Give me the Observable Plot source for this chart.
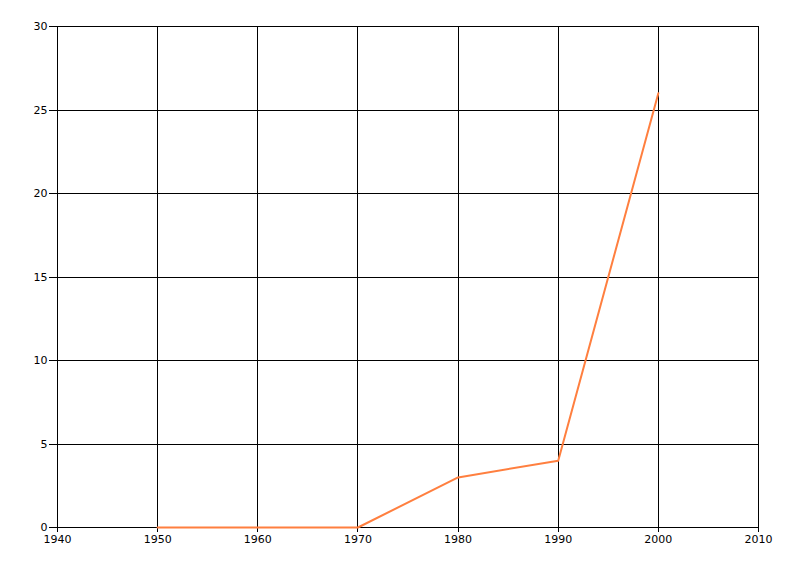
<!DOCTYPE html>
<html>
<head>
<meta charset="utf-8">
<script src="https://cdn.jsdelivr.net/npm/d3@7"></script>
<script src="https://cdn.jsdelivr.net/npm/@observablehq/plot@0.6"></script>
<style>
  html, body { margin: 0; padding: 0; background: #fff; }
  svg line, svg path[aria-label] { }
  g[aria-label="x-grid"], g[aria-label="y-grid"], g[aria-label="x-axis tick"], g[aria-label="y-axis tick"] { shape-rendering: crispEdges; }
</style>
</head>
<body>
<div id="chart"></div>
<script>
const years = [1950, 1960, 1970, 1980, 1990, 2000];
const values = [0, 0, 0, 3, 4, 26];
const xTicks = [1940, 1950, 1960, 1970, 1980, 1990, 2000, 2010];
const yTicks = [0, 5, 10, 15, 20, 25, 30];

const data = years.map((y, i) => ({year: y, value: values[i]}));

const chart = Plot.plot({
  width: 800,
  height: 576,
  marginLeft: 57,
  marginRight: 42,
  marginTop: 26,
  marginBottom: 49,
  style: {fontFamily: "'DejaVu Sans', sans-serif", fontSize: "11px", color: "#000", background: "#fff"},
  x: {domain: [1940, 2010], label: null},
  y: {domain: [0, 30], label: null},
  marks: [
    Plot.gridX(xTicks, {stroke: "#000", strokeOpacity: 1, strokeWidth: 1}),
    Plot.gridY(yTicks, {stroke: "#000", strokeOpacity: 1, strokeWidth: 1}),
    Plot.axisX({ticks: xTicks, tickFormat: d => String(d), tickSize: 5, tickPadding: 3, label: null, stroke: "#000"}),
    Plot.axisY({ticks: yTicks, tickSize: 8, tickPadding: 2, label: null, stroke: "#000"}),
    Plot.line(data, {x: "year", y: "value", stroke: "#ff7f3f", strokeWidth: 2})
  ]
});
document.getElementById("chart").appendChild(chart);
</script>
</body>
</html>
